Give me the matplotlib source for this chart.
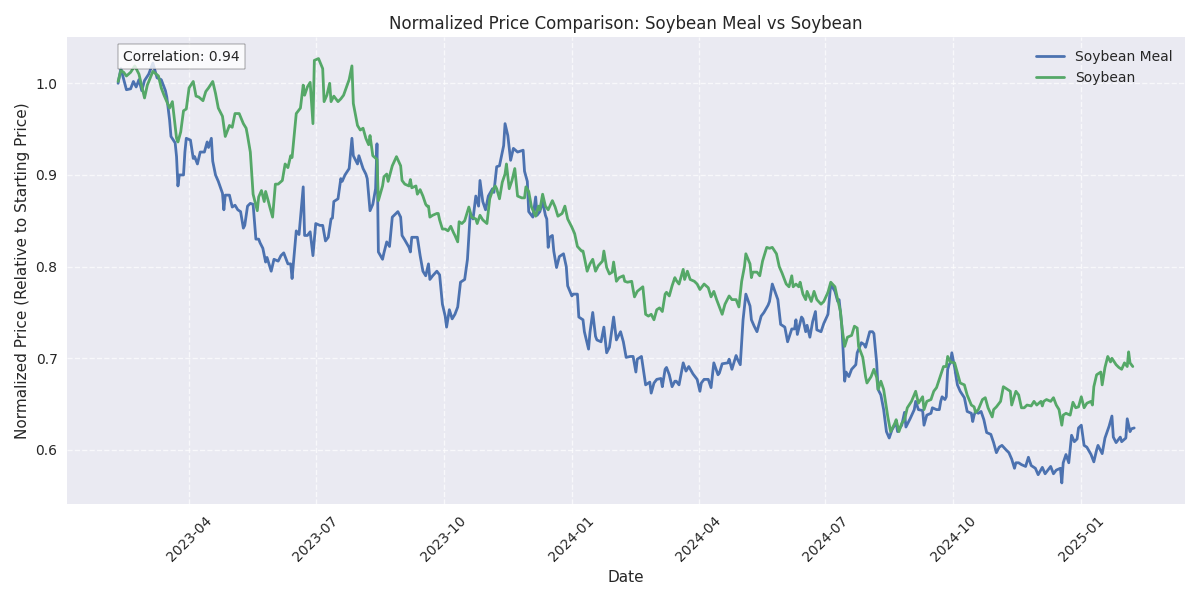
import matplotlib
matplotlib.use('Agg')
import matplotlib.pyplot as plt
import pandas as pd

# series start date; day offsets below are counted from here
start_date = '2023-02-09'

meal_days = [
    0, 2, 6, 9, 11, 13, 15, 17, 19, 22, 25, 28, 31, 34, 35, 37, 38, 41, 42, 43,
    44, 47, 48, 49, 52, 54, 55, 57, 59, 62, 64, 65, 67, 68, 70, 72, 75, 76, 77, 80,
    82, 84, 86, 88, 90, 91, 93, 95, 97, 99, 101, 102, 104, 106, 107, 110, 112, 115, 117, 119,
    122, 124, 125, 128, 130, 133, 134, 136, 138, 140, 142, 145, 147, 149, 151, 153, 154, 155, 158, 160,
    161, 163, 166, 168, 169, 172, 173, 176, 178, 179, 181, 183, 185, 186, 187, 190, 191, 193, 195, 197,
    201, 203, 204, 206, 209, 210, 211, 214, 215, 217, 219, 221, 223, 224, 226, 229, 231, 233, 235, 236,
    238, 240, 242, 244, 246, 249, 251, 253, 255, 257, 259, 260, 262, 264, 266, 269, 270, 272, 274, 277,
    278, 280, 282, 284, 287, 291, 292, 294, 295, 298, 300, 301, 303, 305, 307, 308, 309, 310, 312, 313,
    315, 317, 320, 322, 323, 326, 327, 330, 331, 334, 335, 338, 339, 341, 343, 344, 347, 349, 351, 353,
    356, 358, 361, 363, 365, 368, 370, 372, 373, 376, 379, 381, 382, 383, 385, 387, 390, 391, 393, 394,
    396, 398, 400, 401, 403, 406, 408, 410, 413, 416, 418, 419, 421, 424, 426, 428, 431, 432, 434, 438,
    439, 441, 444, 445, 447, 449, 451, 454, 455, 457, 459, 462, 464, 467, 468, 470, 473, 474, 476, 479,
    481, 484, 486, 487, 488, 491, 492, 494, 495, 497, 499, 501, 502, 505, 507, 510, 512, 515, 517, 518,
    520, 522, 523, 525, 527, 530, 531, 534, 536, 537, 540, 542, 543, 545, 546, 548, 550, 552, 554, 556,
    559, 560, 563, 565, 566, 569, 572, 573, 575, 578, 579, 581, 584, 585, 588, 590, 591, 592, 594, 595,
    596, 597, 598, 599, 601, 602, 603, 605, 608, 610, 613, 614, 615, 616, 618, 620, 622, 624, 627, 629,
    631, 633, 635, 638, 640, 642, 644, 645, 647, 649, 652, 654, 656, 659, 661, 664, 666, 670, 672, 674,
    677, 678, 679, 681, 683, 685, 687, 689, 690, 692, 694, 696, 699, 701, 703, 704, 707, 709, 712, 714,
    715, 717, 720, 721, 724, 725, 727, 728, 730,
]
meal_values = [
    1.000, 1.016, 0.993, 0.994, 1.002, 0.996, 1.004, 0.992, 1.003, 1.010, 1.022, 1.006, 1.004, 0.992, 0.985, 0.960, 0.942, 0.935, 0.920, 0.888,
    0.900, 0.900, 0.925, 0.940, 0.938, 0.918, 0.920, 0.912, 0.925, 0.925, 0.936, 0.930, 0.940, 0.915, 0.900, 0.893, 0.880, 0.862, 0.878, 0.878,
    0.865, 0.867, 0.862, 0.860, 0.842, 0.845, 0.866, 0.869, 0.868, 0.830, 0.830, 0.826, 0.820, 0.805, 0.810, 0.795, 0.808, 0.806, 0.812, 0.815,
    0.803, 0.803, 0.787, 0.839, 0.835, 0.887, 0.834, 0.834, 0.838, 0.812, 0.847, 0.845, 0.845, 0.828, 0.832, 0.852, 0.853, 0.871, 0.874, 0.896,
    0.893, 0.900, 0.907, 0.940, 0.921, 0.912, 0.921, 0.907, 0.901, 0.896, 0.861, 0.868, 0.885, 0.934, 0.816, 0.808, 0.815, 0.827, 0.822, 0.854,
    0.860, 0.854, 0.834, 0.829, 0.821, 0.816, 0.832, 0.832, 0.832, 0.812, 0.795, 0.790, 0.803, 0.786, 0.790, 0.795, 0.791, 0.759, 0.746, 0.734,
    0.753, 0.743, 0.748, 0.756, 0.783, 0.786, 0.808, 0.858, 0.852, 0.877, 0.866, 0.894, 0.871, 0.862, 0.877, 0.885, 0.881, 0.909, 0.910, 0.932,
    0.956, 0.943, 0.916, 0.929, 0.925, 0.927, 0.904, 0.893, 0.860, 0.854, 0.876, 0.856, 0.860, 0.871, 0.856, 0.852, 0.821, 0.832, 0.834, 0.817,
    0.799, 0.811, 0.814, 0.800, 0.779, 0.768, 0.770, 0.770, 0.745, 0.742, 0.729, 0.710, 0.728, 0.750, 0.724, 0.720, 0.718, 0.734, 0.706, 0.712,
    0.745, 0.720, 0.729, 0.718, 0.701, 0.702, 0.702, 0.685, 0.699, 0.702, 0.671, 0.673, 0.674, 0.662, 0.673, 0.677, 0.678, 0.669, 0.688, 0.690,
    0.682, 0.669, 0.675, 0.675, 0.671, 0.695, 0.686, 0.691, 0.683, 0.677, 0.664, 0.673, 0.677, 0.677, 0.668, 0.695, 0.682, 0.684, 0.694, 0.695,
    0.699, 0.688, 0.703, 0.699, 0.693, 0.742, 0.770, 0.757, 0.742, 0.735, 0.729, 0.746, 0.750, 0.758, 0.762, 0.781, 0.768, 0.764, 0.737, 0.734,
    0.718, 0.732, 0.732, 0.742, 0.726, 0.745, 0.743, 0.729, 0.736, 0.723, 0.740, 0.751, 0.731, 0.729, 0.738, 0.748, 0.781, 0.773, 0.762, 0.764,
    0.735, 0.675, 0.685, 0.680, 0.688, 0.693, 0.706, 0.717, 0.715, 0.712, 0.729, 0.729, 0.727, 0.695, 0.666, 0.660, 0.644, 0.620, 0.613, 0.622,
    0.630, 0.620, 0.627, 0.641, 0.625, 0.634, 0.644, 0.653, 0.644, 0.643, 0.627, 0.638, 0.640, 0.646, 0.644, 0.644, 0.653, 0.658, 0.655, 0.658,
    0.688, 0.693, 0.695, 0.706, 0.690, 0.680, 0.671, 0.664, 0.657, 0.642, 0.640, 0.631, 0.638, 0.642, 0.640, 0.642, 0.633, 0.619, 0.617, 0.608,
    0.597, 0.603, 0.605, 0.600, 0.597, 0.590, 0.580, 0.586, 0.586, 0.584, 0.582, 0.592, 0.583, 0.580, 0.573, 0.581, 0.574, 0.582, 0.574, 0.578,
    0.580, 0.564, 0.586, 0.595, 0.586, 0.616, 0.609, 0.612, 0.624, 0.627, 0.605, 0.603, 0.595, 0.587, 0.600, 0.605, 0.596, 0.613, 0.626, 0.637,
    0.614, 0.608, 0.614, 0.609, 0.613, 0.634, 0.620, 0.623, 0.624,
]

soy_days = [
    0, 2, 4, 6, 9, 12, 15, 19, 21, 25, 29, 31, 33, 35, 37, 39, 42, 43, 45, 47,
    49, 51, 54, 56, 58, 61, 63, 65, 68, 70, 72, 75, 77, 80, 82, 84, 87, 90, 92, 93,
    95, 97, 100, 101, 103, 105, 106, 108, 109, 111, 113, 115, 118, 120, 122, 124, 125, 128, 131, 133,
    134, 136, 138, 140, 141, 144, 147, 148, 150, 152, 153, 155, 158, 160, 162, 165, 166, 168, 169, 172,
    174, 176, 178, 180, 181, 183, 186, 187, 190, 191, 193, 194, 197, 200, 203, 204, 206, 209, 210, 211,
    214, 215, 217, 219, 221, 222, 223, 224, 226, 229, 230, 231, 233, 235, 237, 239, 241, 242, 244, 245,
    247, 249, 252, 254, 257, 258, 260, 262, 265, 266, 267, 269, 271, 272, 274, 276, 278, 279, 281, 283,
    285, 287, 290, 292, 293, 295, 297, 300, 302, 303, 305, 307, 309, 312, 314, 316, 319, 321, 323, 326,
    328, 330, 333, 334, 335, 337, 339, 341, 343, 345, 348, 349, 351, 353, 355, 356, 358, 360, 363, 364,
    366, 369, 370, 371, 373, 377, 379, 381, 383, 385, 387, 389, 391, 393, 394, 396, 398, 400, 401, 403,
    406, 407, 409, 411, 414, 416, 418, 420, 421, 424, 426, 428, 430, 432, 434, 436, 439, 441, 444, 446,
    448, 450, 451, 454, 455, 456, 459, 461, 463, 466, 468, 470, 473, 475, 477, 480, 482, 484, 485, 487,
    489, 490, 492, 494, 495, 498, 500, 502, 505, 507, 510, 512, 515, 517, 519, 520, 522, 524, 527, 529,
    531, 532, 535, 537, 538, 541, 543, 545, 546, 548, 550, 553, 555, 558, 559, 561, 563, 565, 567, 570,
    573, 575, 578, 579, 581, 584, 586, 588, 591, 593, 595, 596, 598, 601, 603, 605, 608, 610, 613, 615,
    616, 618, 621, 623, 625, 628, 629, 631, 634, 636, 638, 641, 642, 645, 647, 649, 651, 653, 656, 658,
    660, 663, 664, 665, 667, 670, 672, 674, 676, 678, 679, 681, 684, 686, 688, 690, 692, 694, 696, 699,
    700, 701, 703, 706, 707, 709, 711, 713, 714, 717, 719, 721, 723, 725, 726, 727, 729,
]
soy_values = [
    1.002, 1.014, 1.012, 1.008, 1.012, 1.019, 1.010, 0.984, 0.998, 1.013, 1.008, 0.995, 0.987, 0.980, 0.973, 0.980, 0.940, 0.936, 0.947, 0.970,
    0.972, 0.995, 1.002, 0.986, 0.985, 0.981, 0.991, 0.995, 1.002, 0.989, 0.973, 0.964, 0.942, 0.954, 0.952, 0.967, 0.967, 0.956, 0.951, 0.943,
    0.925, 0.879, 0.861, 0.876, 0.883, 0.871, 0.882, 0.871, 0.865, 0.854, 0.890, 0.890, 0.894, 0.912, 0.908, 0.921, 0.919, 0.967, 0.973, 0.998,
    0.987, 0.996, 1.001, 0.956, 1.025, 1.027, 1.016, 0.980, 0.987, 1.000, 0.980, 0.986, 0.980, 0.983, 0.987, 1.000, 1.004, 1.019, 0.978, 0.954,
    0.949, 0.951, 0.940, 0.933, 0.943, 0.921, 0.917, 0.872, 0.888, 0.898, 0.901, 0.893, 0.910, 0.920, 0.910, 0.894, 0.890, 0.888, 0.895, 0.886,
    0.888, 0.879, 0.884, 0.877, 0.868, 0.866, 0.866, 0.854, 0.856, 0.858, 0.858, 0.851, 0.841, 0.841, 0.839, 0.844, 0.837, 0.834, 0.827, 0.849,
    0.847, 0.850, 0.865, 0.854, 0.852, 0.847, 0.856, 0.851, 0.847, 0.860, 0.874, 0.883, 0.888, 0.885, 0.874, 0.892, 0.901, 0.912, 0.885, 0.894,
    0.907, 0.877, 0.875, 0.875, 0.887, 0.882, 0.865, 0.855, 0.866, 0.862, 0.879, 0.866, 0.862, 0.872, 0.865, 0.855, 0.858, 0.866, 0.852, 0.843,
    0.836, 0.822, 0.817, 0.817, 0.810, 0.795, 0.803, 0.808, 0.795, 0.801, 0.806, 0.817, 0.799, 0.792, 0.794, 0.805, 0.784, 0.788, 0.790, 0.784,
    0.783, 0.784, 0.775, 0.767, 0.773, 0.778, 0.748, 0.746, 0.748, 0.742, 0.753, 0.755, 0.751, 0.770, 0.772, 0.768, 0.779, 0.788, 0.785, 0.781,
    0.797, 0.786, 0.795, 0.786, 0.784, 0.781, 0.775, 0.779, 0.781, 0.777, 0.767, 0.773, 0.764, 0.756, 0.748, 0.759, 0.768, 0.764, 0.764, 0.756,
    0.784, 0.800, 0.814, 0.803, 0.788, 0.794, 0.794, 0.790, 0.806, 0.821, 0.820, 0.821, 0.814, 0.800, 0.793, 0.781, 0.778, 0.790, 0.778, 0.781,
    0.778, 0.783, 0.770, 0.764, 0.773, 0.762, 0.773, 0.764, 0.759, 0.762, 0.772, 0.783, 0.778, 0.764, 0.751, 0.734, 0.713, 0.723, 0.725, 0.735,
    0.733, 0.713, 0.701, 0.680, 0.673, 0.680, 0.688, 0.679, 0.666, 0.675, 0.666, 0.636, 0.620, 0.629, 0.633, 0.620, 0.629, 0.633, 0.646, 0.653,
    0.664, 0.651, 0.658, 0.644, 0.653, 0.655, 0.664, 0.668, 0.682, 0.691, 0.691, 0.702, 0.696, 0.695, 0.684, 0.673, 0.671, 0.660, 0.649, 0.647,
    0.641, 0.644, 0.655, 0.657, 0.646, 0.636, 0.644, 0.647, 0.653, 0.669, 0.667, 0.664, 0.649, 0.664, 0.660, 0.646, 0.646, 0.649, 0.648, 0.653,
    0.649, 0.653, 0.648, 0.653, 0.655, 0.653, 0.657, 0.649, 0.644, 0.627, 0.638, 0.640, 0.638, 0.652, 0.646, 0.647, 0.658, 0.646, 0.651, 0.653,
    0.649, 0.669, 0.682, 0.685, 0.671, 0.690, 0.702, 0.696, 0.700, 0.693, 0.690, 0.688, 0.695, 0.691, 0.707, 0.695, 0.691,
]

correlation = 0.94

start = pd.Timestamp(start_date)
meal = pd.Series(meal_values, index=start + pd.to_timedelta(meal_days, unit='D'))
soy = pd.Series(soy_values, index=start + pd.to_timedelta(soy_days, unit='D'))

plt.style.use('seaborn-v0_8')
plt.rcParams['font.family'] = ['DejaVu Sans']
fig, ax = plt.subplots(figsize=(12, 6), dpi=100)

ax.plot(meal.index, meal.values, label='Soybean Meal', linewidth=2)
ax.plot(soy.index, soy.values, label='Soybean', linewidth=2)

ax.set_title('Normalized Price Comparison: Soybean Meal vs Soybean')
ax.set_xlabel('Date')
ax.set_ylabel('Normalized Price (Relative to Starting Price)')
ax.legend(loc='upper right')
ax.grid(True, linestyle='--', alpha=0.7)
plt.xticks(rotation=45)

ax.text(0.05, 0.95, f'Correlation: {correlation:.2f}', transform=ax.transAxes,
        bbox=dict(facecolor='white', alpha=0.8))

plt.tight_layout()
plt.savefig('out.png', dpi=100)
